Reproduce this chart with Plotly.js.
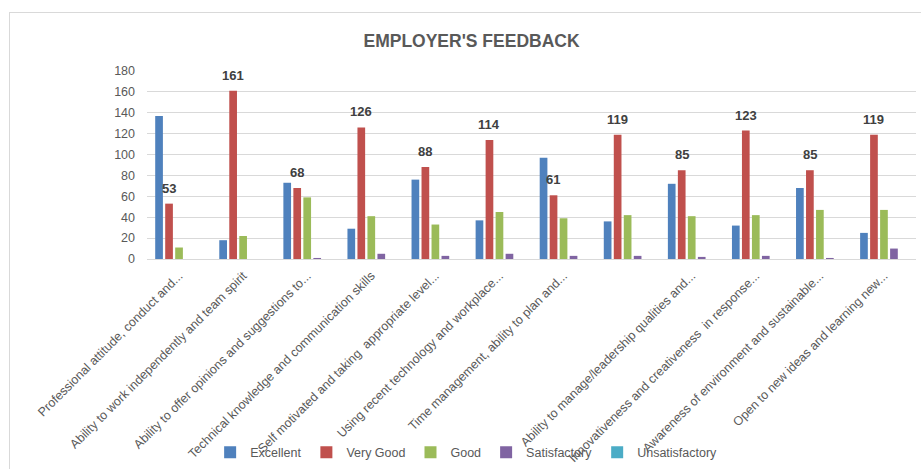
<!DOCTYPE html>
<html>
<head>
<meta charset="utf-8">
<script src="https://cdn.plot.ly/plotly-3.0.1.min.js"></script>
<style>
  html, body { margin: 0; padding: 0; background: #ffffff; }
  #wrap { position: relative; width: 921px; height: 469px; }
  #chart { width: 921px; height: 469px; }
  #frame { position: absolute; left: 9px; top: 12px; width: 912px; height: 457px;
           border-top: 1px solid #d9d9d9; border-left: 1px solid #d9d9d9;
           box-sizing: border-box; pointer-events: none; }
</style>
</head>
<body>
<div id="wrap">
  <div id="chart"></div>
  <div id="frame"></div>
</div>
<script>
const categories = [
  "Professional attitude, conduct and...",
  "Ability to work independently and team spirit",
  "Ability to offer opinions and suggestions to...",
  "Technical knowledge and communication skills",
  "Self motivated and taking  appropriate level...",
  "Using recent technology and workplace...",
  "Time management, ability to plan and...",
  "",
  "Ability to manage/leadership qualities and...",
  "Innovativeness and creativeness  in response...",
  "Awareness of environment and sustainable...",
  "Open to new ideas and learning new..."
];
const excellent      = [137, 18, 73, 29, 76, 37, 97, 36, 72, 32, 68, 25];
const veryGood       = [53, 161, 68, 126, 88, 114, 61, 119, 85, 123, 85, 119];
const good           = [11, 22, 59, 41, 33, 45, 39, 42, 41, 42, 47, 47];
const satisfactory   = [0, 0, 1, 5, 3, 5, 3, 3, 2, 3, 1, 10];
const unsatisfactory = [0, 0, 0, 0, 0, 0, 0, 0, 0, 0, 0, 0];
const yTicks = [0, 20, 40, 60, 80, 100, 120, 140, 160, 180];

const idx = categories.map((c, i) => i);
const seriesDefs = [
  { name: "Excellent", y: excellent, color: "#4F81BD" },
  { name: "Very Good", y: veryGood, color: "#C0504D" },
  { name: "Good", y: good, color: "#9BBB59" },
  { name: "Satisfactory", y: satisfactory, color: "#8064A2" },
  { name: "Unsatisfactory", y: unsatisfactory, color: "#4BACC6" }
];
const traces = seriesDefs.map(s => ({
  type: "bar",
  name: s.name,
  x: idx,
  y: s.y,
  marker: { color: s.color },
  hoverinfo: "x+y+name"
}));

const annotations = veryGood.map((v, i) => ({
  x: i, y: v, xref: "x", yref: "y",
  text: "<b>" + String(v) + "</b>",
  showarrow: false,
  xshift: -10.2,
  yanchor: "bottom",
  yshift: 6,
  font: { family: "Liberation Sans, Arial, sans-serif", size: 13, color: "#404040" }
}));

const layout = {
  width: 921, height: 469,
  paper_bgcolor: "#ffffff", plot_bgcolor: "#ffffff",
  margin: { l: 147, r: 5, t: 71, b: 210, pad: 0, autoexpand: false },
  title: {
    text: "<b>EMPLOYER'S FEEDBACK</b>",
    x: 0.512, xanchor: "center",
    y: 0.913, yanchor: "middle",
    font: { family: "Liberation Sans, Arial, sans-serif", size: 17.5, color: "#595959" }
  },
  barmode: "group",
  bargap: 0.22,
  bargroupgap: 0.23,
  xaxis: {
    type: "linear",
    range: [-0.5, 11.5],
    tickvals: idx,
    ticktext: categories,
    tickangle: -45,
    showgrid: false,
    zeroline: false,
    showline: false,
    ticks: "",
    ticklabelstandoff: 6,
    automargin: false,
    tickfont: { family: "Liberation Sans, Arial, sans-serif", size: 12.5, color: "#595959" },
    fixedrange: true
  },
  yaxis: {
    range: [0, 180],
    tickvals: yTicks,
    showgrid: true,
    gridcolor: "#d9d9d9",
    gridwidth: 1,
    zeroline: true,
    zerolinecolor: "#d9d9d9",
    zerolinewidth: 1,
    showline: false,
    ticks: "",
    ticklabelstandoff: 11,
    automargin: false,
    tickfont: { family: "Liberation Sans, Arial, sans-serif", size: 12.5, color: "#595959" },
    fixedrange: true
  },
  showlegend: true,
  legend: {
    orientation: "h",
    x: 0.415, xanchor: "center",
    y: -1.03, yanchor: "middle",
    font: { family: "Liberation Sans, Arial, sans-serif", size: 12.5, color: "#595959" },
    bgcolor: "rgba(0,0,0,0)",
    itemwidth: 30,
    traceorder: "normal"
  },
  annotations: annotations
};

Plotly.newPlot("chart", traces, layout, { displayModeBar: false, staticPlot: true });
</script>
</body>
</html>
